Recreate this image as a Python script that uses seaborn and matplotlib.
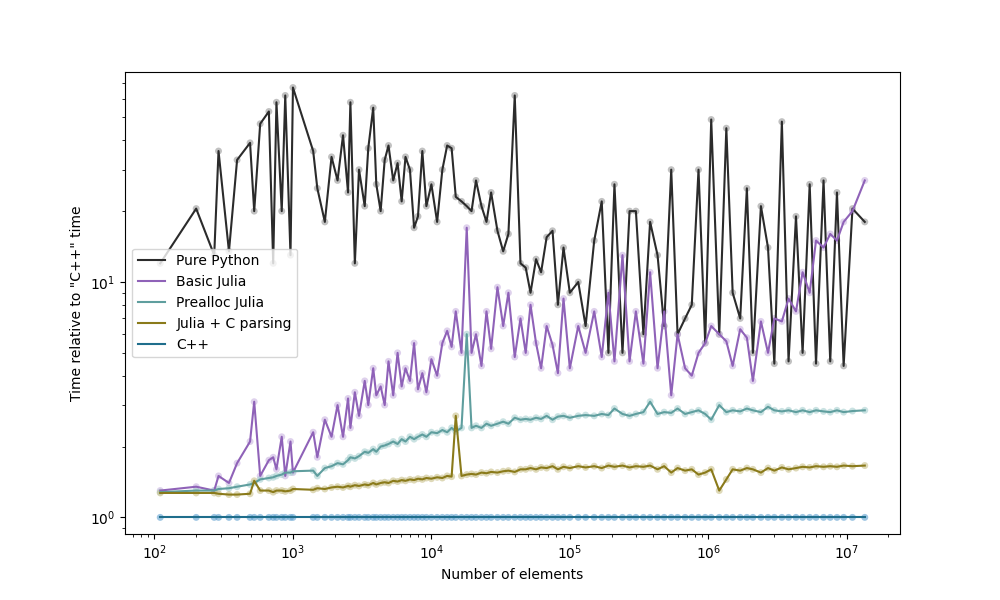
import matplotlib
matplotlib.use("Agg")
import matplotlib.pyplot as plt
import seaborn as sns
import pandas as pd

n_elements = [
    110, 200, 270, 290, 345, 395, 490, 525, 580, 670,
    720, 760, 830, 880, 960, 1000, 1400, 1500, 1700, 1900,
    2100, 2300, 2500, 2600, 2800, 3000, 3300, 3500, 3800, 4000,
    4300, 4600, 4900, 5300, 5700, 6100, 6500, 7000, 7500, 8000,
    8600, 9200, 10000, 11000, 12000, 13000, 14000, 15000, 16500, 18000,
    19500, 21000, 23000, 25000, 27000, 30000, 33000, 36000, 40000, 44000,
    48000, 52000, 57000, 62000, 68000, 75000, 82000, 90000, 100000, 115000,
    130000, 150000, 170000, 190000, 210000, 240000, 270000, 300000, 340000, 380000,
    430000, 480000, 540000, 600000, 680000, 760000, 850000, 950000, 1050000, 1200000,
    1350000, 1500000, 1700000, 1900000, 2100000, 2400000, 2700000, 3000000, 3400000, 3800000,
    4300000, 4800000, 5400000, 6000000, 6800000, 7600000, 8500000, 9500000, 11000000, 13500000,
]

pure_python = [
    12, 20.5, 13, 36, 13.5, 33, 39, 20, 47, 53,
    12, 58, 20, 62, 13, 67, 36, 25, 18, 34,
    27, 42, 24, 58, 12, 30, 21, 37, 55, 26,
    20, 33, 38, 27, 32, 22, 34, 30, 17, 19,
    36, 21, 26, 18, 30, 38, 37, 23, 22, 21,
    20, 27, 21, 18, 24, 16.5, 13.5, 16, 62, 12,
    11.5, 9, 12.5, 11, 15.5, 16.5, 8, 14, 9, 10,
    6.5, 15, 22, 5, 26, 5, 20, 20, 6, 18,
    13, 6.5, 30, 6, 7, 8, 30, 5.5, 49, 6,
    45, 9, 7, 25, 5, 21, 14, 4.5, 48, 4.6,
    19, 5, 26, 4.5, 27, 4.6, 24, 4.4, 20.5, 18,
]
basic_julia = [
    1.3, 1.35, 1.3, 1.5, 1.4, 1.7, 2.1, 3.1, 1.5, 1.75,
    1.8, 1.6, 2.2, 1.5, 2.1, 1.55, 2.3, 1.8, 2.6, 2.2,
    3.0, 2.2, 3.2, 2.4, 3.4, 2.7, 3.8, 3.0, 4.3, 3.3,
    3.6, 3.0, 4.6, 3.3, 5.0, 3.6, 4.3, 3.8, 5.5, 3.5,
    4.1, 3.4, 4.7, 4.0, 5.5, 6.2, 5.3, 7.5, 5.0, 17,
    5.0, 6.0, 4.4, 7.5, 5.2, 9.5, 6.5, 9.0, 4.8, 7.0,
    5.0, 8.0, 5.5, 4.3, 6.5, 5.4, 4.1, 8.5, 4.3, 6.5,
    5.0, 7.5, 4.8, 9.0, 4.6, 13.0, 4.6, 7.5, 4.5, 11,
    4.3, 7.5, 3.3, 6.0, 4.3, 4.0, 5.0, 5.5, 6.5, 6.0,
    5.6, 4.4, 6.3, 5.8, 3.8, 6.8, 5.0, 7.0, 6.8, 8.5,
    7.5, 11, 9.0, 15, 14, 16, 15, 18, 20, 27,
]
prealloc_julia = [
    1.28, 1.3, 1.3, 1.32, 1.33, 1.35, 1.38, 1.4, 1.45, 1.47,
    1.48, 1.5, 1.52, 1.55, 1.55, 1.57, 1.58, 1.5, 1.62, 1.65,
    1.7, 1.68, 1.75, 1.8, 1.78, 1.82, 1.9, 1.88, 1.95, 1.9,
    2.0, 2.02, 2.05, 2.1, 2.05, 2.15, 2.1, 2.2, 2.15, 2.2,
    2.25, 2.2, 2.3, 2.28, 2.35, 2.3, 2.4, 2.32, 2.4, 6.0,
    2.4, 2.45, 2.4, 2.5, 2.45, 2.5, 2.55, 2.5, 2.65, 2.6,
    2.62, 2.6, 2.65, 2.62, 2.7, 2.6, 2.68, 2.7, 2.65, 2.7,
    2.72, 2.7, 2.75, 2.72, 2.9, 2.75, 2.7, 2.75, 2.8, 3.1,
    2.75, 2.8, 2.78, 2.9, 2.75, 2.8, 2.85, 2.75, 2.6, 3.0,
    2.8, 2.85, 2.82, 2.9, 2.85, 2.8, 2.95, 2.85, 2.82, 2.85,
    2.8, 2.85, 2.8, 2.85, 2.82, 2.8, 2.85, 2.8, 2.83, 2.85,
]
julia_c_parsing = [
    1.27, 1.27, 1.27, 1.26, 1.25, 1.25, 1.26, 1.43, 1.3, 1.3,
    1.28, 1.3, 1.3, 1.29, 1.3, 1.32, 1.31, 1.33, 1.32, 1.34,
    1.35, 1.34, 1.36, 1.35, 1.37, 1.36, 1.38, 1.37, 1.4, 1.38,
    1.4, 1.41, 1.4, 1.43, 1.42, 1.44, 1.43, 1.45, 1.44, 1.46,
    1.45, 1.47, 1.46, 1.48, 1.47, 1.5, 1.49, 2.7, 1.5, 1.52,
    1.53, 1.52, 1.55, 1.54, 1.56, 1.55, 1.57, 1.58, 1.56, 1.6,
    1.6, 1.62, 1.6, 1.63, 1.62, 1.65, 1.6, 1.64, 1.62, 1.65,
    1.63, 1.65, 1.62, 1.66, 1.64, 1.66, 1.63, 1.65, 1.64, 1.66,
    1.6, 1.65, 1.55, 1.62, 1.58, 1.6, 1.52, 1.55, 1.6, 1.3,
    1.45, 1.6, 1.58, 1.62, 1.6, 1.55, 1.62, 1.58, 1.63, 1.6,
    1.62, 1.64, 1.63, 1.65, 1.64, 1.65, 1.64, 1.66, 1.65, 1.66,
]
cpp = [1.0] * len(n_elements)

series_names = ["Pure Python", "Basic Julia", "Prealloc Julia", "Julia + C parsing", "C++"]
series_values = [pure_python, basic_julia, prealloc_julia, julia_c_parsing, cpp]
line_colors = ["#2b2b2b", "#8f62b8", "#5f9e9e", "#8a7a1a", "#1f6e8c"]
dot_colors = ["#999999", "#c9b3e0", "#a8d0d0", "#c9c08a", "#5fa0d0"]

fig, ax = plt.subplots(figsize=(10, 6), dpi=100)
for name, vals, lc, dc in zip(series_names, series_values, line_colors, dot_colors):
    df = pd.DataFrame({"n": n_elements, "t": vals})
    sns.scatterplot(data=df, x="n", y="t", ax=ax, color=dc, alpha=0.6, s=25,
                    edgecolor="none", legend=False)
    sns.lineplot(data=df, x="n", y="t", ax=ax, color=lc, label=name, linewidth=1.5,
                 estimator=None, sort=False)

ax.set_xscale("log")
ax.set_yscale("log")
ax.set_ylim(0.85, 78)
ax.set_xlabel("Number of elements")
ax.set_ylabel('Time relative to "C++" time')
ax.legend(loc="center left", bbox_to_anchor=(0.0, 0.5))
fig.savefig("out.png")
